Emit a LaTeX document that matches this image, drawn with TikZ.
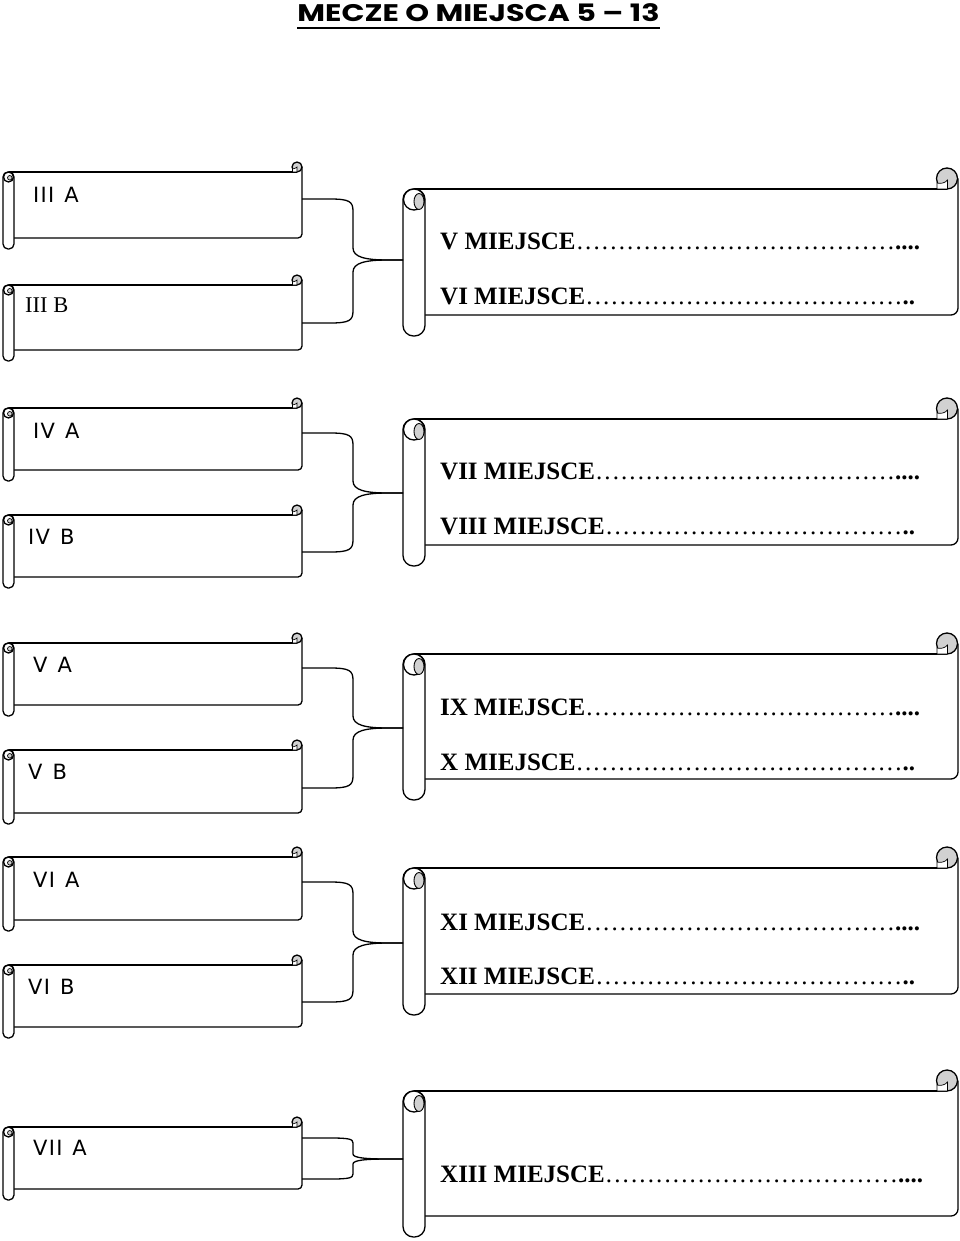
\documentclass[tikz,border=0pt]{standalone}
\usepackage{fontspec}
\setmainfont{Liberation Serif}
\newfontfamily\lblfont[LetterSpace=6]{DejaVu Sans}
\newfontfamily\titlefont{Poppins}
\usetikzlibrary{calc}
\definecolor{curlgray}{gray}{0.82}
\tikzset{
  sline/.style={line width=1.3pt, line join=round},
  lbl/.style={anchor=west, inner sep=0pt, font=\lblfont\fontsize{21}{24}\selectfont},
  lblserif/.style={anchor=west, inner sep=0pt, font=\fontsize{22.5}{26}\selectfont},
  bigtxt/.style={anchor=base west, inner sep=0pt, font=\fontsize{25}{30}\selectfont\bfseries},
}
\newcommand\dotlead{\xleaders\hbox to 8.33pt{\hss\mdseries.\hss}\hfill}
% small scroll: top, bottom
\newcommand\smallscroll[2]{%
  \draw[sline] (8.5,#1) -- (297,#1);
  \draw[sline, rounded corners=4pt] (302,{#1-5}) -- (302,#2) -- (14,#2);
  \draw[sline, fill=curlgray] (297,{#1-5}) circle (5);
  \draw[line width=0.6pt, fill=white] (292.5,#1) -- (292.5,{#1-3}) .. controls (294,{#1-3}) and (296,{#1-4}) .. (297,{#1-5}) -- (297,#1) -- cycle;
  \draw[sline, fill=white, rounded corners=5pt] (3,#1) rectangle (14,{#2+11});
  \draw[sline, fill=white] (8.5,{#1+5}) circle (5);
  \draw[line width=0.7pt, fill=curlgray] (9.8,{#1+5.8}) circle (2.3);
}
% big scroll: top, bottom
\newcommand\bigscroll[2]{%
  \draw[sline] (414,#1) -- (947,#1);
  \draw[sline, rounded corners=7pt] (958,{#1-10.5}) -- (958,#2) -- (425,#2);
  \draw[sline, fill=curlgray] (947,{#1-10.5}) circle (10.5);
  \draw[line width=0.7pt, fill=white] (937,#1) -- (937,{#1-6}) .. controls (941,{#1-5}) and (945,{#1-6}) .. (947.5,{#1-9}) -- (947.5,#1) -- cycle;
  \draw[sline, fill=white, rounded corners=10.5pt] (403,#1) rectangle (425,{#2+21});
  \draw[sline, fill=white] (414,{#1+10.5}) circle (10.5);
  \draw[line width=0.9pt, fill=curlgray] (419,{#1+12.5}) ellipse (5 and 8);
}
% bracket connector: from, to, sign (1 = from above, -1 = from below), bend
\newcommand\brk[4]{%
  \draw[sline] (#1) -- ($(#1)+(28,0)$)
    .. controls ($(#1)+(47,0)$) and ($(#1)+(51,{(#3)*(#4)/5})$) .. ($(#1)+(51,{(#3)*(#4)})$)
    -- ($(#2)+(-50,{-(#3)*(#4)})$)
    .. controls ($(#2)+(-50,{-(#3)*(#4)/4})$) and ($(#2)+(-38,0)$) .. ($(#2)+(-15,0)$)
    -- (#2);
}
\begin{document}
\begin{tikzpicture}[x=1pt, y=-1pt]
\useasboundingbox (0,0) rectangle (960,1241);

% title
\node[anchor=base, inner sep=0pt, font=\titlefont\bfseries\fontsize{24}{28}\selectfont] (title) at (478.5,22) {\scalebox{1.26}[1]{MECZE O MIEJSCA 5 – 13}};
\draw[line width=2.2pt] ([yshift=-6pt]title.base west) -- ([yshift=-6pt]title.base east);

% group 1
\smallscroll{172}{238}
\smallscroll{285}{350}
\bigscroll{189}{315}
\node[lbl] (l3a) at (33,194.5) {III\hspace{10pt}A};
\node[lblserif] (l3b) at (25,305.5) {III B};
\node[bigtxt] (p5) at (440,250) {\hbox to 480pt{V MIEJSCE\dotlead....}};
\node[bigtxt] (p6) at (440,304) {\hbox to 475pt{VI MIEJSCE\dotlead..}};
\coordinate (a1) at (302,199);
\coordinate (b1) at (302,323);
\coordinate (m1) at (403,260);
\brk{a1}{m1}{1}{12}
\brk{b1}{m1}{-1}{12}

% group 2
\smallscroll{408}{470}
\smallscroll{515}{577}
\bigscroll{419}{545}
\node[lbl] (l4a) at (33,430.5) {IV\hspace{10pt}A};
\node[lbl] (l4b) at (28,536.5) {IV\hspace{10pt}B};
\node[bigtxt] (p7) at (440,479) {\hbox to 480pt{VII MIEJSCE\dotlead....}};
\node[bigtxt] (p8) at (440,534) {\hbox to 475pt{VIII MIEJSCE\dotlead..}};
\coordinate (a2) at (302,433);
\coordinate (b2) at (302,552);
\coordinate (m2) at (403,493);
\brk{a2}{m2}{1}{12}
\brk{b2}{m2}{-1}{12}

% group 3
\smallscroll{643}{705}
\smallscroll{750}{813}
\bigscroll{654}{779}
\node[lbl] (l5a) at (33,665) {V\hspace{10pt}A};
\node[lbl] (l5b) at (28,772) {V\hspace{10pt}B};
\node[bigtxt] (p9) at (440,715) {\hbox to 480pt{IX MIEJSCE\dotlead....}};
\node[bigtxt] (p10) at (440,770) {\hbox to 475pt{X MIEJSCE\dotlead..}};
\coordinate (a3) at (302,668);
\coordinate (b3) at (302,788);
\coordinate (m3) at (403,728);
\brk{a3}{m3}{1}{12}
\brk{b3}{m3}{-1}{12}

% group 4
\smallscroll{857}{920}
\smallscroll{965}{1027}
\bigscroll{868}{994}
\node[lbl] (l6a) at (33,879.5) {VI\hspace{10pt}A};
\node[lbl] (l6b) at (28,986.5) {VI\hspace{10pt}B};
\node[bigtxt] (p11) at (440,930) {\hbox to 480pt{XI MIEJSCE\dotlead....}};
\node[bigtxt] (p12) at (440,984) {\hbox to 475pt{XII MIEJSCE\dotlead..}};
\coordinate (a4) at (302,882);
\coordinate (b4) at (302,1002);
\coordinate (m4) at (403,943);
\brk{a4}{m4}{1}{12}
\brk{b4}{m4}{-1}{12}

% group 5
\smallscroll{1127}{1189}
\bigscroll{1091}{1216}
\node[lbl] (l7a) at (33,1148) {VII\hspace{10pt}A};
\node[bigtxt] (p13) at (440,1182) {\hbox to 483pt{XIII MIEJSCE\dotlead....}};
\coordinate (a5) at (302,1138);
\coordinate (b5) at (302,1179);
\coordinate (m5) at (403,1159);
\brk{a5}{m5}{1}{5}
\brk{b5}{m5}{-1}{5}
\end{tikzpicture}
\end{document}
